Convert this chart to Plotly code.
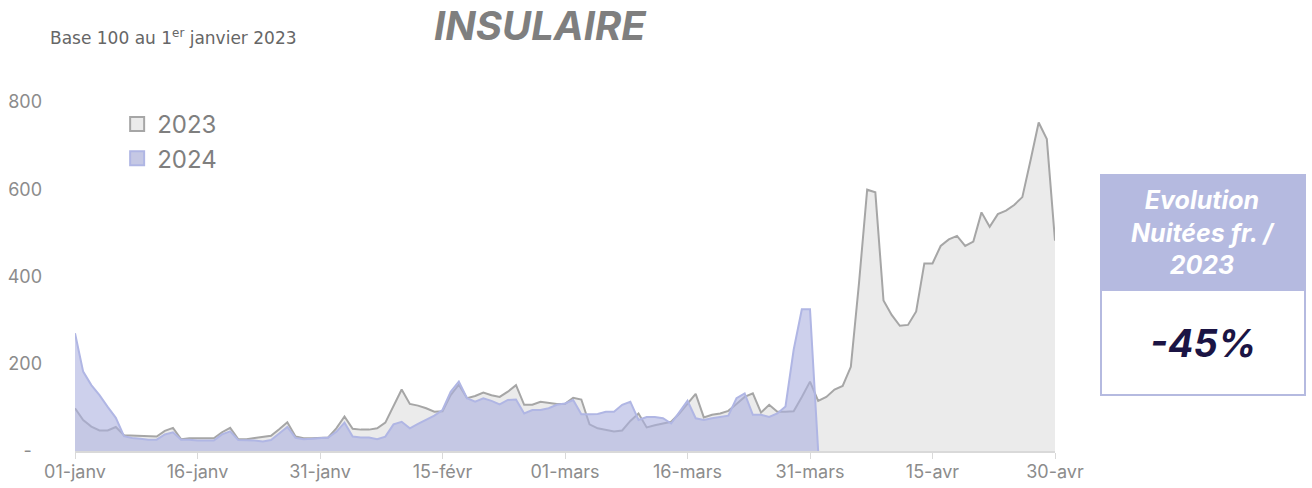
import pandas as pd
import plotly.graph_objects as go

# ---- data ----
days_2023 = list(pd.date_range("2024-01-01", "2024-04-30", freq="D"))
values_2023 = [
    98, 71, 56, 47, 47, 55, 36, 35, 34, 33, 33, 46, 53, 27, 29, 29, 29, 29, 43, 53,
    27, 27, 30, 33, 35, 50, 66, 33, 29, 29, 30, 31, 52, 79, 51, 49, 49, 52, 65, 102,
    141, 108, 104, 98, 90, 91, 128, 152, 121, 126, 134, 128, 124, 136, 151, 106, 106, 113, 110, 108,
    108, 122, 118, 61, 52, 48, 45, 47, 69, 86, 54, 59, 63, 67, 86, 109, 131, 77, 83, 86,
    92, 108, 124, 132, 88, 106, 90, 90, 91, 124, 159, 115, 124, 141, 149, 193, 385, 599, 593, 345,
    312, 287, 289, 320, 430, 430, 470, 485, 493, 470, 480, 547, 514, 543, 551, 564, 582, 666, 753, 715,
    482,
]
values_2024 = [
    270, 182, 151, 128, 101, 76, 34, 30, 28, 26, 26, 38, 43, 26, 26, 24, 24, 24, 38, 45,
    25, 25, 24, 22, 25, 40, 55, 30, 27, 28, 29, 31, 44, 65, 33, 31, 31, 27, 33, 61,
    67, 52, 62, 71, 81, 94, 136, 159, 121, 113, 121, 115, 107, 117, 118, 86, 94, 94, 98, 106,
    109, 117, 84, 84, 85, 90, 90, 106, 113, 71, 78, 78, 75, 63, 90, 115, 75, 71, 75, 78,
    81, 121, 132, 83, 83, 78, 86, 102, 232, 325, 325, 0,
]
days_2024 = days_2023[:len(values_2024)]

series_names = ["2023", "2024"]
tick_dates = days_2023[::15]
tick_labels = ["01-janv", "16-janv", "31-janv", "15-févr", "01-mars",
               "16-mars", "31-mars", "15-avr", "30-avr"]
y_ticks = [0, 200, 400, 600, 800]
y_tick_labels = ["-\u00a0\u00a0", "200", "400", "600", "800"]
evolution_value = "-45%"

# ---- styling ----
GRAY_LINE = "rgb(166,166,166)"
GRAY_FILL = "rgb(235,235,235)"
BLUE_LINE = "rgb(176,182,228)"
BLUE_FILL = "rgba(172,177,223,0.6)"
LAV = "rgb(181,186,224)"
FONT = "Inter, Lato, sans-serif"

fig = go.Figure()
fig.add_trace(go.Scatter(x=days_2023, y=values_2023, mode="lines", fill="tozeroy",
                         line=dict(color=GRAY_LINE, width=2), fillcolor=GRAY_FILL,
                         showlegend=False, hoverinfo="skip"))
fig.add_trace(go.Scatter(x=days_2024, y=values_2024, mode="lines", fill="tozeroy",
                         line=dict(color=BLUE_LINE, width=2), fillcolor=BLUE_FILL,
                         showlegend=False, hoverinfo="skip"))
# legend proxies (square swatches)
for name, fc, lc in [(series_names[0], GRAY_FILL, GRAY_LINE),
                     (series_names[1], "rgb(197,200,228)", BLUE_LINE)]:
    fig.add_trace(go.Scatter(x=[None], y=[None], mode="markers", name=name,
                             marker=dict(symbol="square", size=14, color=fc,
                                         line=dict(color=lc, width=2))))

fig.update_layout(
    width=1312, height=488,
    margin=dict(l=75, r=257, t=102, b=37, autoexpand=False),
    paper_bgcolor="white", plot_bgcolor="white",
    font=dict(family=FONT, color="#8c8c8c"),
    legend=dict(x=0.043, y=1.0, xanchor="left", yanchor="top",
                font=dict(size=24, color="#7f7f7f"), bgcolor="rgba(0,0,0,0)",
                tracegroupgap=0, itemwidth=30),
    xaxis=dict(range=[days_2023[0], days_2023[-1]], tickvals=tick_dates, ticktext=tick_labels,
               showgrid=False, zeroline=False, showline=True, linecolor="#d9d9d9", linewidth=2,
               ticks="outside", ticklen=6, tickcolor="#d9d9d9", tickwidth=1, automargin=False,
               ticklabelstandoff=-3,
               tickfont=dict(size=18, color="#8c8c8c", family=FONT)),
    yaxis=dict(range=[0, 800], tickvals=y_ticks, ticktext=y_tick_labels,
               showgrid=False, zeroline=False, showline=False, ticks="",
               ticklabelstandoff=32, automargin=False,
               tickfont=dict(size=18, color="#8c8c8c", family=FONT)),
)

# title and subtitle
fig.add_annotation(xref="paper", yref="paper", x=(540 - 75) / 980, y=(451 - 25) / 349,
                   xanchor="center", yanchor="middle",
                   text="<b><i>INSULAIRE</i></b>", showarrow=False,
                   font=dict(size=40, color="#7f7f7f", family=FONT, weight=900))
fig.add_annotation(xref="paper", yref="paper", x=(48 - 75) / 980, y=(451 - 37) / 349,
                   xanchor="left", yanchor="middle",
                   text="Base 100 au 1<sup>er</sup> janvier 2023", showarrow=False,
                   font=dict(size=17, color="#666666", family="DejaVu Sans, sans-serif"))

# evolution box
x0, x1 = (1101 - 75) / 980, (1305 - 75) / 980
y_top, y_mid, y_bot = (451 - 175) / 349, (451 - 290) / 349, (451 - 395) / 349
fig.add_shape(type="rect", xref="paper", yref="paper", x0=x0, x1=x1, y0=y_mid, y1=y_top,
              fillcolor=LAV, line=dict(color=LAV, width=2))
fig.add_shape(type="rect", xref="paper", yref="paper", x0=x0, x1=x1, y0=y_bot, y1=y_mid,
              fillcolor="white", line=dict(color=LAV, width=2))
fig.add_annotation(xref="paper", yref="paper", x=(x0 + x1) / 2, y=(y_top + y_mid) / 2,
                   xanchor="center", yanchor="middle",
                   text="<b><i>Evolution<br>Nuitées fr. /<br>2023</i></b>", showarrow=False,
                   font=dict(size=25, color="white", family=FONT, weight=900))
fig.add_annotation(xref="paper", yref="paper", x=(x0 + x1) / 2, y=(y_mid + y_bot) / 2,
                   xanchor="center", yanchor="middle",
                   text="<b><i>" + evolution_value + "</i></b>", showarrow=False,
                   font=dict(size=38, color="#1b1444", family=FONT, weight=900))

fig.write_html("out.html", config={"displayModeBar": False},
               post_script="document.body.style.margin='0';")
